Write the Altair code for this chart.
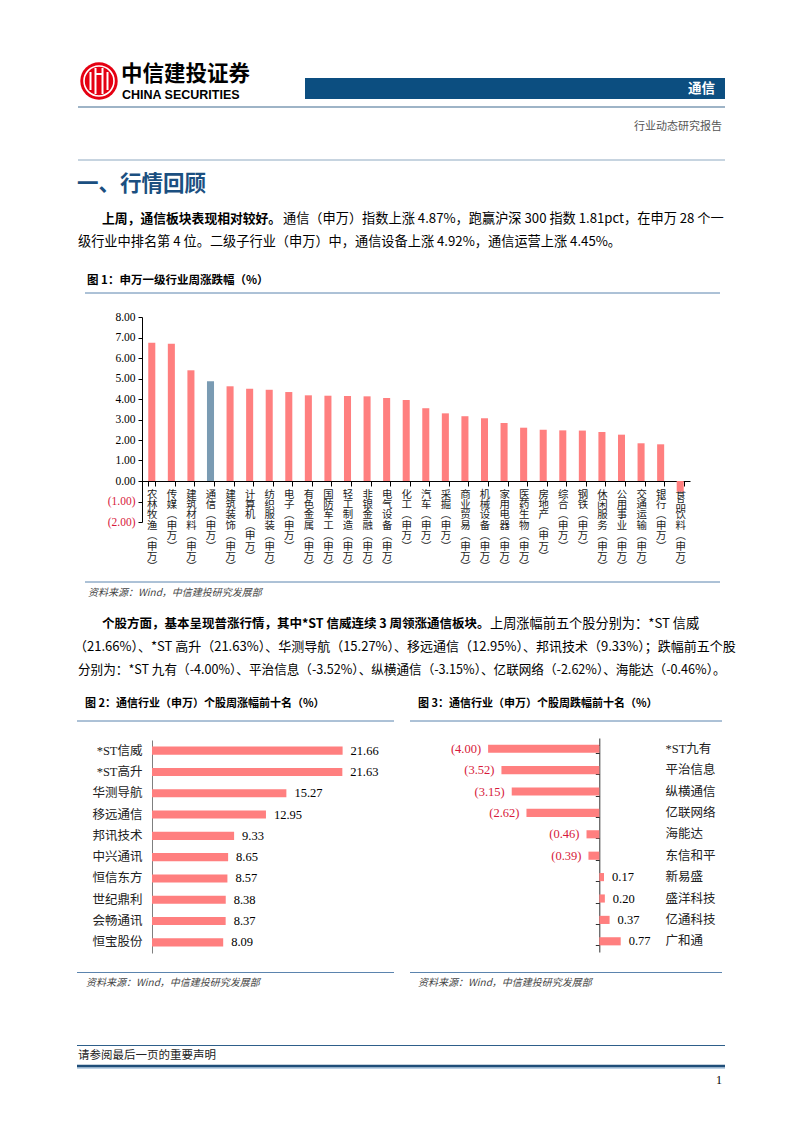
import altair as alt
import pandas as pd

W, H = 786, 1117
M = 8


def px(x):
    return x - M


def py(y):
    return y - M


PINK = "#FF7F7F"
BLUE = "#7A9BB3"
RED = "#D7193A"
NAVY = "#0C4E80"
SERIF = "Liberation Serif, Noto Sans CJK SC"
CJK = "Noto Sans CJK SC"

# ---------------- data ----------------
industries = ["农林牧渔(申万)", "传媒(申万)", "建筑材料(申万)", "通信(申万)", "建筑装饰(申万)",
              "计算机(申万)", "纺织服装(申万)", "电子(申万)", "有色金属(申万)", "国防军工(申万)",
              "轻工制造(申万)", "非银金融(申万)", "电气设备(申万)", "化工(申万)", "汽车(申万)",
              "采掘(申万)", "商业贸易(申万)", "机械设备(申万)", "家用电器(申万)", "医药生物(申万)",
              "房地产(申万)", "综合(申万)", "钢铁(申万)", "休闲服务(申万)", "公用事业(申万)",
              "交通运输(申万)", "银行(申万)", "食品饮料(申万)"]
industry_chg = [6.75, 6.70, 5.40, 4.87, 4.62, 4.50, 4.45, 4.34, 4.18, 4.16, 4.15, 4.13, 4.05, 3.95,
                3.55, 3.30, 3.16, 3.06, 2.83, 2.60, 2.50, 2.47, 2.46, 2.39, 2.26, 1.84, 1.79, -0.52]
y1_ticks = [-2, -1, 0, 1, 2, 3, 4, 5, 6, 7, 8]

gainers = ["*ST信威", "*ST高升", "华测导航", "移远通信", "邦讯技术",
           "中兴通讯", "恒信东方", "世纪鼎利", "会畅通讯", "恒宝股份"]
gainer_chg = [21.66, 21.63, 15.27, 12.95, 9.33, 8.65, 8.57, 8.38, 8.37, 8.09]

losers = ["*ST九有", "平治信息", "纵横通信", "亿联网络", "海能达",
          "东信和平", "新易盛", "盛洋科技", "亿通科技", "广和通"]
loser_chg = [-4.00, -3.52, -3.15, -2.62, -0.46, -0.39, 0.17, 0.20, 0.37, 0.77]

DUMMY = pd.DataFrame({"k": [0]})


# ---------------- decoration helpers ----------------
def T(text, x, y, size=12.5, weight="normal", color="#000000", align="left",
      font=CJK, style="normal"):
    return alt.Chart(DUMMY).mark_text(
        text=text, align=align, baseline="middle", fontSize=size, fontWeight=weight,
        color=color, font=font, fontStyle=style
    ).encode(x=alt.value(px(x)), y=alt.value(py(y)))


def HR(x1, x2, y, color, width=1.0):
    return alt.Chart(DUMMY).mark_rule(color=color, strokeWidth=width).encode(
        x=alt.value(px(x1)), x2=alt.value(px(x2)), y=alt.value(py(y)))


def VR(x, y1, y2, color, width=1.0):
    return alt.Chart(DUMMY).mark_rule(color=color, strokeWidth=width).encode(
        x=alt.value(px(x)), y=alt.value(py(y1)), y2=alt.value(py(y2)))


decor = []
# logo
decor.append(alt.Chart(DUMMY).mark_point(shape="circle", filled=True, color="#E50012",
                                          size=1400, opacity=1).encode(
    x=alt.value(px(99)), y=alt.value(py(81))))
decor.append(alt.Chart(DUMMY).mark_point(shape="circle", filled=False, color="white",
                                          size=900, strokeWidth=1.6, opacity=1).encode(
    x=alt.value(px(99)), y=alt.value(py(81))))
for xx, a, b in [(90.5, 72, 90), (95.5, 68, 94), (102.5, 68, 94), (107.5, 72, 90)]:
    decor.append(VR(xx, a, b, "white", 2))
decor.append(HR(95.5, 102.5, 74, "white", 2))
decor.append(T("中信建投证券", 121, 75, size=21.5, weight="bold"))
decor.append(T("CHINA SECURITIES", 122, 95, size=12.5, weight="bold",
               font="Liberation Sans"))
# header bar
decor.append(alt.Chart(DUMMY).mark_rect(color=NAVY).encode(
    x=alt.value(px(305)), x2=alt.value(px(725)), y=alt.value(py(78)), y2=alt.value(py(99))))
decor.append(T("通信", 715, 88.5, size=13.5, weight="bold", color="white", align="right"))
decor.append(HR(78, 725, 107, "#3E6A90", 1.2))
decor.append(T("行业动态研究报告", 722, 127, size=11, color="#555555", align="right"))
decor.append(HR(78, 725, 160, "#8EA9C1", 1))
decor.append(T("一、行情回顾", 77, 185, size=21.5, weight="bold", color="#1B4F80"))

# paragraph 1
decor.append(T("上周，通信板块表现相对较好。", 102, 219, size=12.8, weight="bold"))
decor.append(T("通信（申万）指数上涨 4.87%，跑赢沪深 300 指数 1.81pct，在申万 28 个一",
               283, 219, size=13.2))
decor.append(T("级行业中排名第 4 位。二级子行业（申万）中，通信设备上涨 4.92%，通信运营上涨 4.45%。",
               78, 242, size=13.2))

# figure 1 frame
decor.append(T("图 1：申万一级行业周涨跌幅（%）", 87, 281, size=11.5, weight="bold"))
decor.append(HR(85, 720, 293, "#5B84AE", 1))
decor.append(HR(85, 720, 582, "#5B84AE", 1))
decor.append(T("资料来源：Wind，中信建投研究发展部", 88, 593, size=10, color="#444444",
               style="italic"))

# paragraph 2
decor.append(T("个股方面，基本呈现普涨行情，其中*ST 信威连续 3 周领涨通信板块。", 102, 624,
               weight="bold"))
decor.append(T("上周涨幅前五个股分别为：*ST 信威", 490, 624, size=13.2))
decor.append(T("（21.66%）、*ST 高升（21.63%）、华测导航（15.27%）、移远通信（12.95%）、邦讯技术（9.33%）；跌幅前五个股",
               74, 647, size=13))
decor.append(T("分别为：*ST 九有（-4.00%）、平治信息（-3.52%）、纵横通信（-3.15%）、亿联网络（-2.62%）、海能达（-0.46%）。",
               78, 670, size=12.6))

# figure 2 / 3 frames
decor.append(T("图 2：通信行业（申万）个股周涨幅前十名（%）", 85, 704, size=11, weight="bold"))
decor.append(HR(77, 394, 721, "#5B84AE", 1))
decor.append(HR(77, 394, 972.5, "#5B84AE", 1))
decor.append(T("资料来源：Wind，中信建投研究发展部", 86, 983, size=10, color="#444444",
               style="italic"))
decor.append(T("图 3：通信行业（申万）个股周跌幅前十名（%）", 418, 704, size=11, weight="bold"))
decor.append(HR(410, 722, 721, "#5B84AE", 1))
decor.append(HR(410, 722, 972.5, "#5B84AE", 1))
decor.append(T("资料来源：Wind，中信建投研究发展部", 418, 983, size=10, color="#444444",
               style="italic"))

# footer
decor.append(HR(77, 725, 1045.5, "#2E5F8A", 1))
decor.append(T("请参阅最后一页的重要声明", 78, 1056, size=11.5, color="#222222"))
decor.append(HR(77, 725, 1068, "#BFD3E6", 2))
decor.append(HR(77, 725, 1066, "#1F4E79", 2.6))
decor.append(T("1", 722, 1080, size=12, align="right", font=SERIF))

# ---------------- figure 1 ----------------
df1 = pd.DataFrame({"industry": industries, "chg": industry_chg})
fig1 = alt.Chart(df1).mark_bar().encode(
    x=alt.X("industry:N", sort=None, title=None,
            scale=alt.Scale(domain=industries, range=[px(142), px(690)],
                            paddingInner=0.64, paddingOuter=0.32),
            axis=alt.Axis(orient="bottom", offset=-(H - py(481)), labelAngle=0,
                          labelExpr="split(replace(replace(datum.label, '(', '︵'), ')', '︶'), '')",
                          labelBaseline="top", labelAlign="center", labelLineHeight=10.4,
                          labelFontSize=10.4, labelFont=SERIF, labelColor="#222222",
                          labelPadding=3, labelOverlap=False, tickBand="extent",
                          tickSize=5, tickColor="#000000", domainColor="#000000",
                          grid=False)),
    y=alt.Y("chg:Q", title=None,
            scale=alt.Scale(domain=[-2, 8], range=[py(522), py(317)], nice=False),
            axis=alt.Axis(orient="left", offset=-px(142), values=y1_ticks,
                          labelExpr="datum.value < 0 ? '(' + format(-datum.value, '.2f') + ')' : format(datum.value, '.2f')",
                          labelColor={"expr": "datum.value < 0 ? '%s' : '#000000'" % RED},
                          labelFontSize=11.5, labelFont=SERIF, tickSize=4, labelPadding=3,
                          tickColor="#000000", domainColor="#000000", grid=False)),
    color=alt.condition(alt.datum.industry == "通信(申万)", alt.value(BLUE), alt.value(PINK)),
)

# ---------------- figure 2 ----------------
df2 = pd.DataFrame({"stock": gainers, "chg": gainer_chg})
y2_scale = alt.Scale(domain=gainers, range=[py(740), py(953)], paddingInner=0.62,
                     paddingOuter=0.31)
x2_scale = alt.Scale(domain=[0, 25], range=[px(152), px(152) + 220], nice=False)
bars2 = alt.Chart(df2).mark_bar(color=PINK).encode(
    y=alt.Y("stock:N", sort=None, title=None, scale=y2_scale,
            axis=alt.Axis(orient="left", offset=-px(152), ticks=False, tickSize=0,
                          labelPadding=10, labelFont=SERIF, labelFontSize=12.5,
                          labelColor="#222222", domainColor="#7F7F7F", grid=False)),
    x=alt.X("chg:Q", title=None, scale=x2_scale, axis=None),
)
text2 = alt.Chart(df2).mark_text(align="left", dx=8, font=SERIF, fontSize=12.5,
                                 color="#000000").encode(
    y=alt.Y("stock:N", sort=None, scale=y2_scale, axis=None),
    x=alt.X("chg:Q", scale=x2_scale, axis=None),
    text=alt.Text("chg:Q", format=".2f"),
)
fig2 = alt.layer(bars2, text2).resolve_axis(x="independent", y="independent")

# ---------------- figure 3 ----------------
df3 = pd.DataFrame({"stock": losers, "chg": loser_chg})
zero3 = px(599.3)
unit3 = 27.8
y3_scale = alt.Scale(domain=losers, range=[py(738), py(952)], paddingInner=0.62,
                     paddingOuter=0.31)
x3_scale = alt.Scale(domain=[-4, 1], range=[zero3 - 4 * unit3, zero3 + unit3], nice=False)
bars3 = alt.Chart(df3).mark_bar(color=PINK).encode(
    y=alt.Y("stock:N", sort=None, title=None, scale=y3_scale,
            axis=alt.Axis(orient="left", offset=-zero3, labels=False, tickBand="extent",
                          tickSize=4, tickColor="#333333", domainColor="#333333",
                          grid=False)),
    x=alt.X("chg:Q", title=None, scale=x3_scale, axis=None),
)
neg3 = alt.Chart(df3).transform_filter("datum.chg < 0").transform_calculate(
    lbl="'(' + format(-datum.chg, '.2f') + ')'"
).mark_text(align="right", dx=-7, font=SERIF, fontSize=12.5, color=RED).encode(
    y=alt.Y("stock:N", sort=None, scale=y3_scale, axis=None),
    x=alt.X("chg:Q", scale=x3_scale, axis=None),
    text="lbl:N",
)
pos3 = alt.Chart(df3).transform_filter("datum.chg >= 0").mark_text(
    align="left", dx=8, font=SERIF, fontSize=12.5, color="#000000").encode(
    y=alt.Y("stock:N", sort=None, title=None, scale=y3_scale,
            axis=alt.Axis(orient="right", offset=px(665) - W, ticks=False, tickSize=0,
                          domain=False, labelPadding=0, labelFont=SERIF,
                          labelFontSize=12.5, labelColor="#222222", grid=False)),
    x=alt.X("chg:Q", scale=x3_scale, axis=None),
    text=alt.Text("chg:Q", format=".2f"),
)
fig3 = alt.layer(bars3, neg3, pos3).resolve_axis(x="independent", y="independent")

chart = alt.layer(*decor, fig1, fig2, fig3).resolve_scale(
    x="independent", y="independent"
).properties(
    width=W, height=H, padding=0, autosize=alt.AutoSizeParams(type="none"),
    background="white",
).configure_view(stroke=None)

chart.save("out.html", embed_options={"renderer": "svg", "actions": False})
